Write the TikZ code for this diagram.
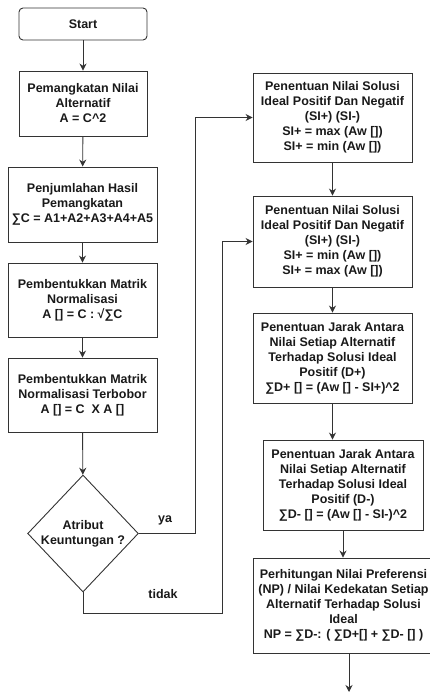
\documentclass[tikz,border=0pt]{standalone}
\usepackage{fontspec}
\setmainfont{Liberation Sans}
\usetikzlibrary{arrows.meta,shapes.geometric}

\begin{document}
\begin{tikzpicture}[x=1pt, y=-1pt, >={Stealth[length=7pt,width=7pt]}]
        \tikzstyle{mulai}=[draw=black!80, line width=0.9pt, rounded corners=4pt, minimum width=128pt, minimum height=32pt]
        \tikzstyle{proses}=[draw=black!80, line width=0.9pt, shape=rectangle, align=center, inner sep=0pt]
        \tikzstyle{keputusan}=[draw=black!80, line width=0.9pt, shape=diamond, align=center, inner sep=0pt, minimum width=106pt, minimum height=117pt]
        \tikzstyle{garis}=[->, draw=black!80, line width=0.9pt]
        \tikzset{every node/.style={font=\bfseries\fontsize{12.5}{15}\selectfont, text=black!90}}

        \useasboundingbox (0,0) rectangle (430,692);
        \clip (0,0) rectangle (430,692);

        \node[mulai](start) at (83,24){Start};
        \node[proses, minimum width=128pt, minimum height=65pt](pangkat) at (83,103.5){Pemangkatan Nilai\\Alternatif\\A = C\textasciicircum 2};
        \node[proses, minimum width=149pt, minimum height=75pt](jumlah) at (82.5,204.5){Penjumlahan Hasil\\Pemangkatan\\∑C = A1+A2+A3+A4+A5};
        \node[proses, minimum width=149pt, minimum height=74pt](normal) at (82.5,300){Pembentukkan Matrik\\Normalisasi\\A [] = C : √∑C};
        \node[proses, minimum width=149pt, minimum height=74pt](terbobot) at (82.5,395){Pembentukkan Matrik\\Normalisasi Terbobor\\A [] = C \ X A []};
        \node[keputusan](atribut) at (83,533.5){Atribut\\Keuntungan ?};

        \node[proses, minimum width=159pt, minimum height=89pt](solA) at (332.5,117.5){Penentuan Nilai Solusi\\Ideal Positif Dan Negatif\\(SI+) (SI-)\\SI+ = max (Aw [])\\SI+ = min (Aw [])};
        \node[proses, minimum width=159pt, minimum height=91pt](solB) at (332.5,241.5){Penentuan Nilai Solusi\\Ideal Positif Dan Negatif\\(SI+) (SI-)\\SI+ = min (Aw [])\\SI+ = max (Aw [])};
        \node[proses, minimum width=159pt, minimum height=90pt](jarakP) at (332.5,358){Penentuan Jarak Antara\\Nilai Setiap Alternatif\\Terhadap Solusi Ideal\\Positif (D+)\\∑D+ [] = (Aw [] - SI+)\textasciicircum 2};
        \node[proses, minimum width=160pt, minimum height=90pt](jarakN) at (343,485){Penentuan Jarak Antara\\Nilai Setiap Alternatif\\Terhadap Solusi Ideal\\Positif (D-)\\∑D- [] = (Aw [] - SI-)\textasciicircum 2};
        \node[proses, minimum width=181pt, minimum height=95pt](pref) at (343.5,605.5){Perhitungan Nilai Preferensi\\(NP) / Nilai Kedekatan Setiap\\Alternatif Terhadap Solusi\\Ideal\\NP = ∑D-: ( ∑D+[] + ∑D- [] )};
        \coordinate (selesai) at (349,692);

        \node(ya) at (165,520){ya};
        \node(tidak) at (163,594){tidak};

        \draw[garis] (start) -- (pangkat);
        \draw[garis] (pangkat) -- (jumlah);
        \draw[garis] (jumlah) -- (normal);
        \draw[garis] (normal) -- (terbobot);
        \draw[garis] (terbobot) -- (atribut);

        \draw[garis] (atribut.east) -- (195,533.5) |- (solA.west);
        \draw[garis] (atribut.south) |- (222,613) |- (solB.west);

        \draw[garis] (solA) -- (solB);
        \draw[garis] (solB) -- (jarakP);
        \draw[garis] (jarakP.south) -- (jarakP.south |- jarakN.north);
        \draw[garis] (jarakN.south) -- (jarakN.south |- pref.north);
        \draw[garis] (selesai |- pref.south) -- (selesai);

        \end{tikzpicture}
\end{document}
